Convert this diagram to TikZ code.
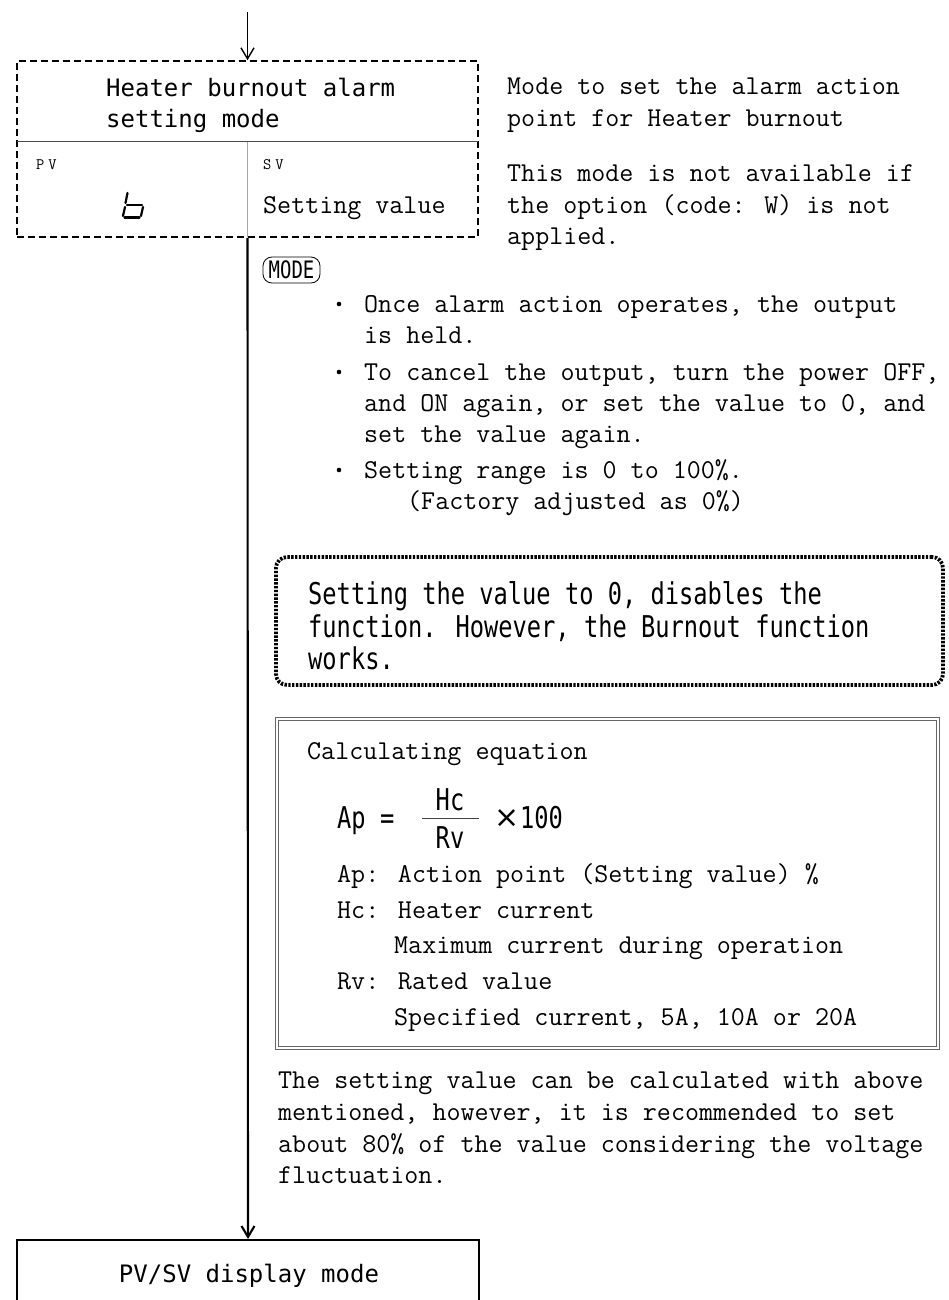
\documentclass[tikz,border=0pt]{standalone}
\usepackage{fontspec}
\usetikzlibrary{arrows.meta}
\newfontfamily\gothmono{DejaVu Sans Mono}
\newfontfamily\gothtall[FakeStretch=0.79]{DejaVu Sans Mono}
\newfontfamily\gothprop{DejaVu Sans}
\newcommand\twfont{\fontsize{27.24}{31}\selectfont\ttfamily}
\tikzset{
  tw/.style={font=\twfont, inner sep=0pt, anchor=base west},
  gm/.style={font=\gothmono\fontsize{24}{31}\selectfont, inner sep=0pt, anchor=base west},
  gt/.style={font=\gothtall\fontsize{30}{33}\selectfont, inner sep=0pt, anchor=base west},
  tag/.style={font=\ttfamily\fontsize{16}{16}\selectfont, inner sep=0pt, anchor=base west},
  dashframe/.style={draw, line width=1.6pt, dash pattern=on 7pt off 4pt, inner sep=0pt,
    minimum width=461pt, minimum height=176pt},
  dotframe/.style={draw, line width=3.8pt, dash pattern=on 2.4pt off 1.4pt,
    rounded corners=11pt, inner sep=0pt, minimum width=667pt, minimum height=128pt},
  eqframe/.style={draw=black!60, double, double distance=2.4pt, line width=0.8pt,
    inner sep=0pt, minimum width=661pt, minimum height=329pt},
  plainframe/.style={draw, line width=1.5pt, inner sep=0pt, minimum width=462pt,
    minimum height=100pt},
  keycap/.style={draw, line width=0.8pt, rounded corners=9pt, inner sep=0pt,
    minimum width=57pt, minimum height=26pt, font=\gothtall\fontsize{24}{24}\selectfont},
  flow/.style={line width=2.1pt, -{Straight Barb[length=11pt,width=13pt]}},
  seg/.style={line width=2.2pt, line cap=round},
}
\begin{document}
\begin{tikzpicture}[x=1pt,y=-1pt]
\useasboundingbox (0,0) rectangle (949,1300);

% ---- heater burnout alarm setting mode ----
\node[dashframe] (hbox) at (247.5,149) {};
\draw[line width=1pt, black!70] (17,142) -- (478,142);
\draw[line width=1pt, black!35] (247.5,142) -- (247.5,237);
\node[gm] (htitle1) at (106,97) {Heater burnout alarm};
\node[gm] (htitle2) at (106,128) {setting mode};
\node[tag] (pvtag) at (36,170) {P\hspace{4pt}V};
\node[tag] (svtag) at (263,170) {S\hspace{4pt}V};
\node[tw] (svval) at (263,213) {Setting value};
% seven-segment "b" on the PV display
\draw[seg] (127.5,193) -- (125.5,203);
\draw[seg] (125,207) -- (123,216);
\draw[seg] (127,205) -- (142,205);
\draw[seg] (143,207) -- (141,216);
\draw[seg] (124.5,217.5) -- (139.5,217.5);

% ---- side description ----
\node[tw] (d1) at (507,95)  {Mode to set the alarm action};
\node[tw] (d2) at (507,127) {point for Heater burnout};
\node[tw] (d3) at (507,182) {This mode is not available if};
\node[tw] (d4) at (507,213) {the option (code: W) is not};
\node[tw] (d5) at (507,244) {applied.};

% ---- MODE key and notes ----
\node[keycap] (modekey) at (291.5,270) {MODE};
\foreach \yy in {312,380,478} \fill (339,\yy-8) circle (2.3pt);
\node[tw] (b1) at (364,312) {Once alarm action operates, the output};
\node[tw] (b2) at (364,343) {is held.};
\node[tw] (b3) at (364,380) {To cancel the output, turn the power OFF,};
\node[tw] (b4) at (364,411) {and ON again, or set the value to 0, and};
\node[tw] (b5) at (364,442) {set the value again.};
\node[tw] (b6) at (364,478) {Setting range is 0 to 100\%.};
\node[tw] (b7) at (407,509) {(Factory adjusted as 0\%)};

% ---- dotted caution box ----
\node[dotframe] (note) at (609.5,621) {};
\node[gt] (n1) at (308,604) {Setting the value to 0, disables the};
\node[gt] (n2) at (308,637) {function. However, the Burnout function};
\node[gt] (n3) at (308,669) {works.};

% ---- calculating equation box ----
\node[eqframe] (eqbox) at (607.5,883.5) {};
\node[tw] (e0) at (307,759) {Calculating equation};
\node[gt] (eqap) at (337,828) {Ap =};
\node[gt, anchor=base] (eqhc) at (450,810) {Hc};
\node[gt, anchor=base] (eqrv) at (450,848) {Rv};
\draw[line width=0.9pt, black!75] (422,818) -- (479,818);
\node[font=\gothprop\fontsize{30}{30}\selectfont, inner sep=0pt] (eqtimes) at (507.5,819) {×};
\node[gt] (eqhundred) at (520,828) {100};
\node[tw] (e1) at (337,882)  {Ap: Action point (Setting value) \%};
\node[tw] (e2) at (337,918)  {Hc: Heater current};
\node[tw] (e3) at (394,953)  {Maximum current during operation};
\node[tw] (e4) at (337,989)  {Rv: Rated value};
\node[tw] (e5) at (394,1025) {Specified current, 5A, 10A or 20A};

% ---- remark ----
\node[tw] (r1) at (278,1088) {The setting value can be calculated with above};
\node[tw] (r2) at (278,1120) {mentioned, however, it is recommended to set};
\node[tw] (r3) at (278,1152) {about 80\% of the value considering the voltage};
\node[tw] (r4) at (278,1183) {fluctuation.};

% ---- PV/SV display mode ----
\node[plainframe, anchor=north] (pvbox) at (248,1239) {};
\node[gm, anchor=base] (pvtitle) at (249,1282) {PV/SV display mode};

% ---- flow ----
\coordinate (entry) at (247.5,12);
\draw[flow, line width=1.4pt] (entry) -- (hbox.north);
\draw[flow] (hbox.south) -- (pvbox.north);
\end{tikzpicture}
\end{document}
